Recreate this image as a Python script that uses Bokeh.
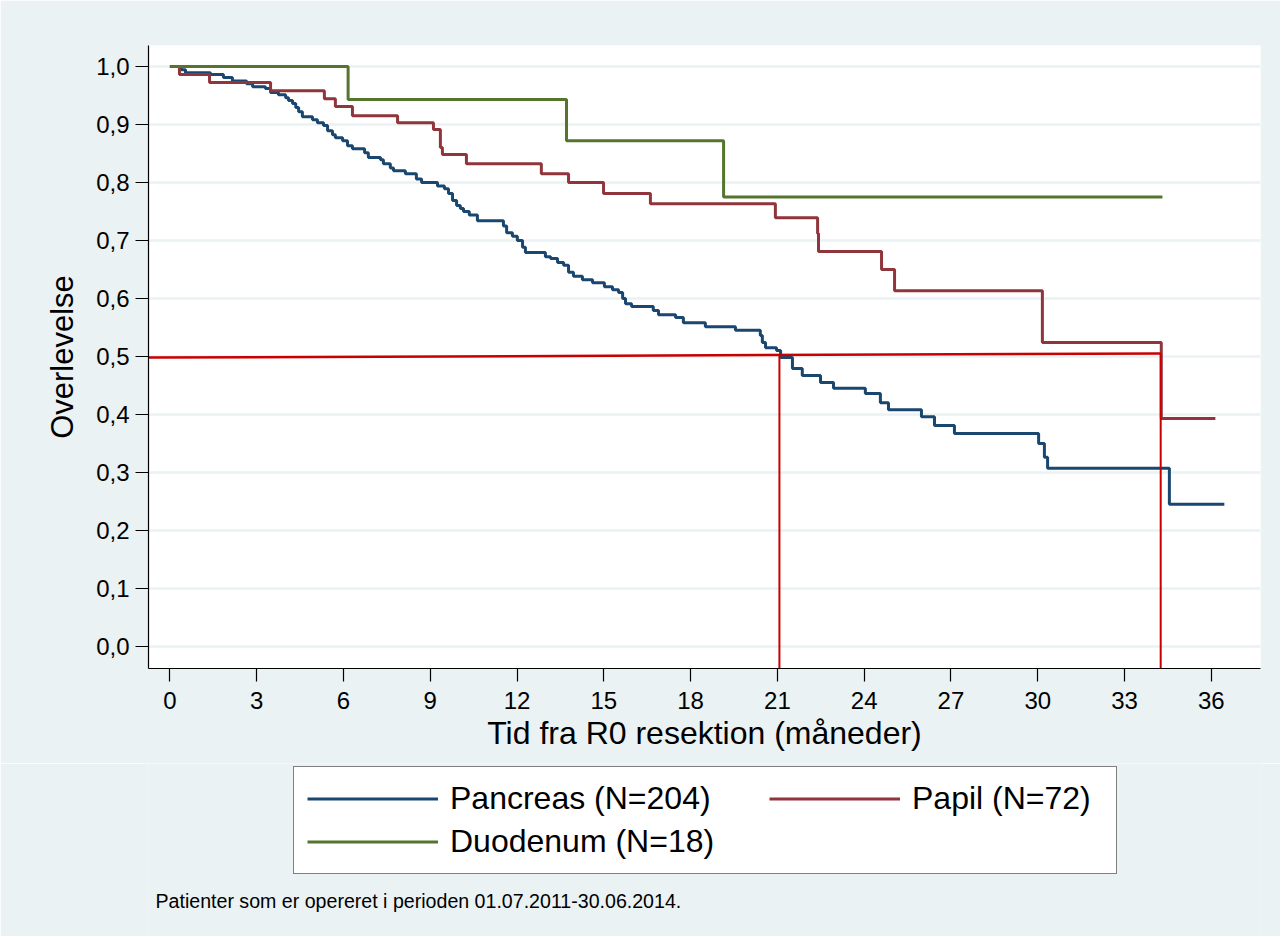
from bokeh.plotting import figure
from bokeh.models import Legend, LegendItem, FixedTicker, Label, Range1d, CustomJSTickFormatter
from bokeh.layouts import column
from bokeh.embed import file_html
from bokeh.resources import INLINE

# ---- data ----
pancreas_t = [0, 0.40, 0.54, 1.40, 1.85, 2.16, 2.65, 2.86, 3.30, 3.48, 3.75, 4.00, 4.10, 4.24,
              4.35, 4.45, 4.58, 4.93, 5.10, 5.31, 5.45, 5.62, 5.72, 5.97, 6.14, 6.31, 6.73,
              6.86, 7.28, 7.38, 7.62, 7.73, 8.14, 8.52, 8.70, 9.25, 9.49, 9.63, 9.77, 9.91,
              10.04, 10.15, 10.35, 10.63, 11.53, 11.64, 11.84, 12.01, 12.19, 12.29, 12.98,
              13.16, 13.40, 13.61, 13.78, 13.95, 14.26, 14.61, 15.02, 15.30, 15.51, 15.65,
              15.75, 15.96, 16.71, 16.89, 17.48, 17.75, 18.51, 19.55, 20.41, 20.48, 20.59,
              20.97, 21.11, 21.52, 21.86, 22.49, 22.94, 24.04, 24.56, 24.84, 25.98, 26.43,
              27.12, 30.03, 30.23, 30.34, 34.55, 36.45]
pancreas_s = [1.0, 0.994, 0.989, 0.986, 0.981, 0.975, 0.970, 0.965, 0.962, 0.955, 0.951, 0.946,
              0.941, 0.936, 0.929, 0.922, 0.913, 0.908, 0.903, 0.898, 0.889, 0.882, 0.877,
              0.872, 0.863, 0.858, 0.851, 0.843, 0.839, 0.832, 0.825, 0.820, 0.815, 0.806,
              0.800, 0.794, 0.789, 0.781, 0.769, 0.760, 0.755, 0.750, 0.744, 0.734, 0.725,
              0.713, 0.707, 0.700, 0.688, 0.679, 0.672, 0.669, 0.662, 0.657, 0.645, 0.638,
              0.632, 0.627, 0.620, 0.615, 0.610, 0.600, 0.591, 0.586, 0.579, 0.572, 0.567,
              0.558, 0.551, 0.545, 0.536, 0.524, 0.515, 0.510, 0.498, 0.479, 0.467, 0.455,
              0.445, 0.436, 0.420, 0.408, 0.396, 0.381, 0.367, 0.350, 0.326, 0.307, 0.245,
              0.245]

papil_t = [0, 0.33, 1.37, 3.48, 5.34, 5.72, 6.31, 7.87, 9.11, 9.35, 9.42, 10.25, 12.84,
           13.78, 14.99, 16.61, 20.93, 22.39, 22.42, 24.60, 25.05, 30.16, 34.27, 36.14]
papil_s = [1.0, 0.986, 0.972, 0.958, 0.944, 0.931, 0.915, 0.903, 0.891, 0.860, 0.848, 0.832,
           0.815, 0.800, 0.781, 0.763, 0.739, 0.712, 0.681, 0.650, 0.613, 0.524, 0.393, 0.393]

duodenum_t = [0, 6.16, 13.71, 19.14, 34.31]
duodenum_s = [1.0, 0.943, 0.872, 0.775, 0.775]

# median survival guide lines
median_t = [21.07, 34.25]
median_level = [0.503, 0.505]
hline_t = [-0.74, 34.25]
hline_s = [0.498, 0.505]

x_ticks = list(range(0, 37, 3))
y_ticks = [0.0, 0.1, 0.2, 0.3, 0.4, 0.5, 0.6, 0.7, 0.8, 0.9, 1.0]

labels = ["Pancreas (N=204)", "Papil (N=72)", "Duodenum (N=18)"]
colors = ["#1A476F", "#90353B", "#55752F"]
footnote = "Patienter som er opereret i perioden 01.07.2011-30.06.2014."

FONT = "Liberation Sans"
BG = "#EAF2F3"
LW = 3

p = figure(frame_width=1112, frame_height=623,
           x_range=Range1d(-0.74, 37.70), y_range=Range1d(-0.038, 1.036),
           output_backend="svg", toolbar_location=None,
           min_border_left=148, min_border_right=20, min_border_top=45, min_border_bottom=95,
           background_fill_color="white", border_fill_color=BG)
p.outline_line_color = None

# grid
p.xgrid.grid_line_color = None
p.ygrid.grid_line_color = BG
p.ygrid.grid_line_width = 2.5
p.ygrid.ticker = FixedTicker(ticks=y_ticks)

# axes
for ax in (p.xaxis[0], p.yaxis[0]):
    ax.axis_line_color = "black"
    ax.axis_line_width = 1.2
    ax.major_tick_line_color = "black"
    ax.major_tick_line_width = 1.2
    ax.major_tick_out = 13
    ax.major_tick_in = 0
    ax.minor_tick_out = 0
    ax.minor_tick_in = 0
    ax.major_label_text_font = FONT
    ax.major_label_text_font_size = "24px"
    ax.major_label_text_color = "black"
    ax.axis_label_text_font = FONT
    ax.axis_label_text_font_style = "normal"
    ax.axis_label_text_color = "black"

p.xaxis.ticker = FixedTicker(ticks=x_ticks)
p.xaxis.axis_label = "Tid fra R0 resektion (måneder)"
p.xaxis.axis_label_text_font_size = "32px"
p.xaxis.major_label_standoff = 10
p.xaxis.axis_label_standoff = 3

p.yaxis.ticker = FixedTicker(ticks=y_ticks)
p.yaxis.formatter = CustomJSTickFormatter(code="return tick.toFixed(1).replace('.', ',');")
p.yaxis.axis_label = "Overlevelse"
p.yaxis.axis_label_text_font_size = "31px"
p.yaxis.major_label_standoff = 6
p.yaxis.axis_label_standoff = 13

# survival curves
p.step(pancreas_t, pancreas_s, mode="after", line_color=colors[0], line_width=LW)
p.step(papil_t, papil_s, mode="after", line_color=colors[1], line_width=LW)
p.step(duodenum_t, duodenum_s, mode="after", line_color=colors[2], line_width=LW)

# median lines
p.line(hline_t, hline_s, line_color="#C80000", line_width=2.5)
p.segment(x0=median_t, y0=median_level, x1=median_t, y1=[-0.05, -0.05],
          line_color="#C80000", line_width=2)

# ---- bottom strip: legend + footnote (frame aligned with the plot above) ----
q = figure(frame_width=1112, frame_height=173,
           x_range=Range1d(-1000, -999), y_range=Range1d(0, 1),
           output_backend="svg", toolbar_location=None,
           min_border_left=148, min_border_right=20, min_border_top=0, min_border_bottom=0,
           background_fill_color=BG, background_fill_alpha=1.0, border_fill_color=BG)
q.outline_line_color = None
q.axis.visible = False
q.grid.visible = False

# legend carriers (same series; the x range keeps them out of view in this strip)
g1 = q.step(pancreas_t, pancreas_s, mode="after", line_color=colors[0], line_width=LW)
g2 = q.step(papil_t, papil_s, mode="after", line_color=colors[1], line_width=LW)
g3 = q.step(duodenum_t, duodenum_s, mode="after", line_color=colors[2], line_width=LW)

common = dict(glyph_width=131, glyph_height=37, label_standoff=12,
              label_text_font=FONT, label_text_font_size="32px", label_text_color="black",
              spacing=6, padding=13, margin=0)

leg_a = Legend(items=[LegendItem(label=labels[0], renderers=[g1]),
                      LegendItem(label=labels[2], renderers=[g3])],
               location=(145, 62), label_width=653,
               border_line_color="black", border_line_width=1.2,
               background_fill_color="white", background_fill_alpha=1.0, **common)
leg_b = Legend(items=[LegendItem(label=labels[1], renderers=[g2])],
               location=(621, 119),
               border_line_color=None, background_fill_alpha=0.0, **common)
q.add_layout(leg_a, "center")
q.add_layout(leg_b, "center")

q.add_layout(Label(x=7, y=36, x_units="screen", y_units="screen", text=footnote,
                   text_font=FONT, text_font_size="19.6px", text_color="black",
                   text_baseline="middle", text_align="left"))

layout = column(p, q, spacing=0)
open("out.html", "w").write(file_html(layout, INLINE))
